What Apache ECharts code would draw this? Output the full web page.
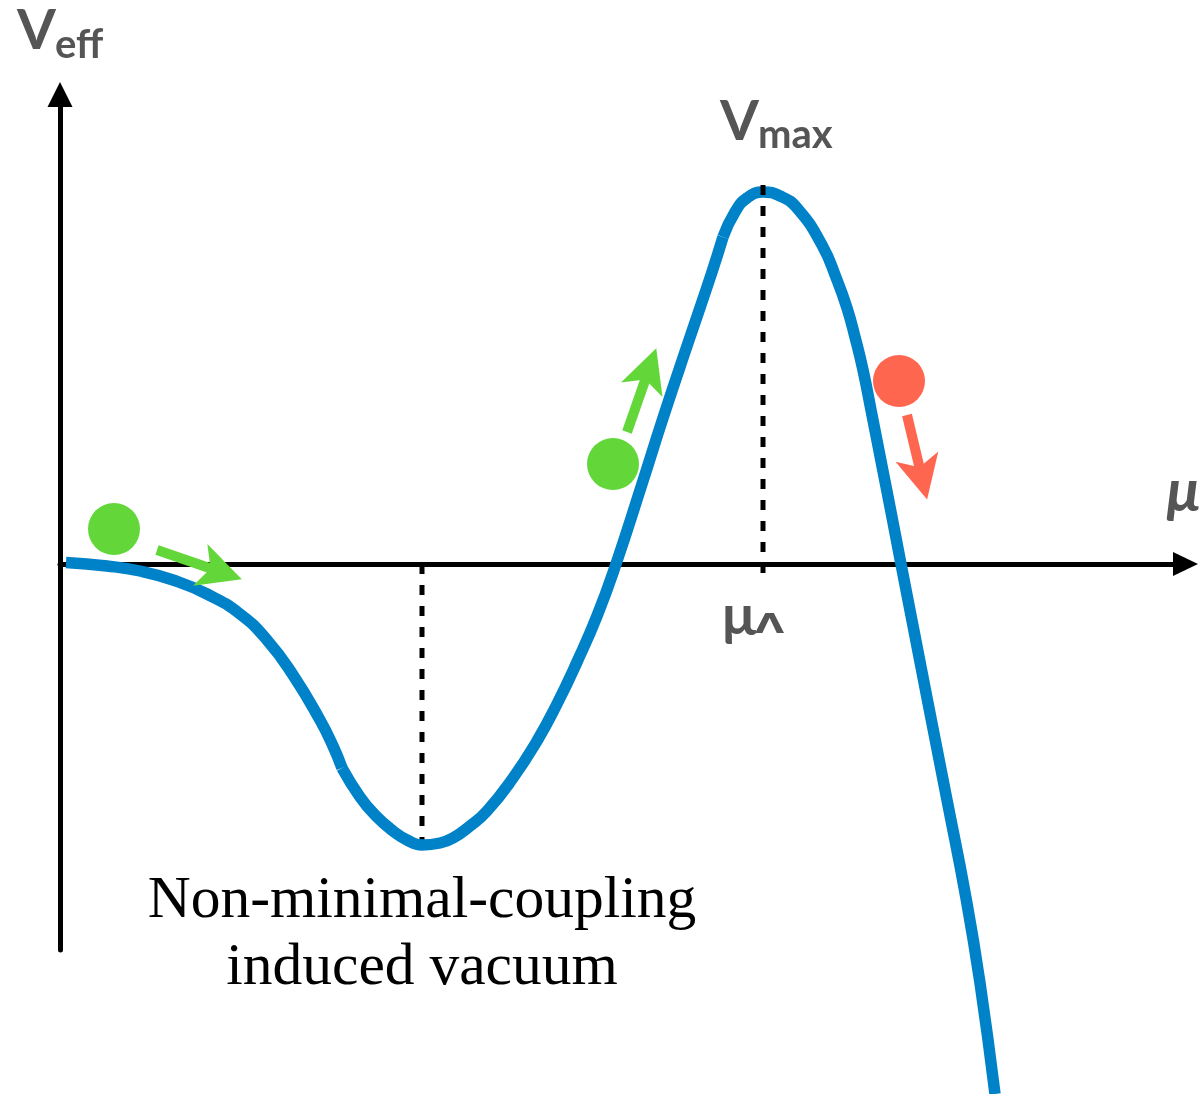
<!DOCTYPE html>
<html>
<head>
<meta charset="utf-8">
<script src="https://cdn.jsdelivr.net/npm/echarts@6/dist/echarts.min.js"></script>
<style>
  html, body { margin: 0; padding: 0; background: #ffffff; }
  #chart { width: 1202px; height: 1094px; }
</style>
</head>
<body>
<div id="chart"></div>
<script>
// Effective potential V_eff(μ), sampled along the curve in plot units.
// Three pieces: the slope into the vacuum, the well and the rise, the barrier top and the fall.
const muSlope = [0.06, 0.47, 0.80, 1.13, 1.47, 1.80, 2.07, 2.33, 2.60, 2.73, 2.82];
const vSlope  = [0.015, -0.02, -0.07, -0.16, -0.30, -0.50, -0.76, -1.11, -1.56, -1.82, -2.04];

const muWell = [2.82, 3.00, 3.15, 3.33, 3.47, 3.62, 3.80, 3.93, 4.10, 4.27, 4.53, 4.77, 4.97, 5.17, 5.37, 5.56, 5.82, 6.03, 6.27, 6.52, 6.63];
const vWell  = [-2.04, -2.33, -2.51, -2.67, -2.76, -2.81, -2.79, -2.74, -2.62, -2.47, -2.14, -1.77, -1.40, -0.98, -0.52, 0.00, 0.80, 1.46, 2.18, 2.92, 3.27];

const muBarrier = [6.63, 6.75, 6.87, 7.03, 7.20, 7.37, 7.62, 7.77, 7.87, 7.95, 8.03, 8.11, 8.21, 8.31, 8.41, 8.55, 8.68, 8.87, 9.06, 9.20, 9.35];
const vBarrier  = [3.27, 3.52, 3.66, 3.72, 3.68, 3.56, 3.19, 2.84, 2.56, 2.27, 1.94, 1.54, 1.03, 0.52, 0.00, -0.72, -1.39, -2.36, -3.34, -4.19, -5.30];

// Characteristic points of the potential
const muVacuum = 3.62;   // non-minimal-coupling induced vacuum
const vVacuum = -2.81;
const muLambda = 7.03;   // top of the barrier, μ_Λ
const vMax = 3.72;

// Axis extents
const muRange = [0, 11.255];
const vRange = [-3.86, 4.695];

// Balls on the potential and the way they move
const ballMu = [0.54, 5.53, 8.39];
const ballV  = [0.35, 1.00, 1.83];
const ballKind = ['rolls', 'climbs', 'escapes'];
const arrowFromMu = [0.97, 5.67, 8.47];
const arrowFromV  = [0.14, 1.32, 1.49];
const arrowToMu   = [1.61, 5.89, 8.62];
const arrowToV    = [-0.08, 1.95, 0.86];

(function () {
  const BLUE = '#0082c8';
  const GREEN = '#63d739';
  const RED = '#ff6650';
  const GREY = '#555555';
  const kindColor = { rolls: GREEN, climbs: GREEN, escapes: RED };

  const zip = (xs, ys) => xs.map((x, i) => [x, ys[i]]);

  const curveSeries = (mu, v) => ({
    type: 'line',
    data: zip(mu, v),
    smooth: 0.5,
    showSymbol: false,
    clip: false,
    silent: true,
    z: 3,
    lineStyle: { color: BLUE, width: 11.5, cap: 'butt', join: 'round' }
  });

  const guideSeries = (points, z) => ({
    type: 'line',
    data: points,
    showSymbol: false,
    clip: false,
    silent: true,
    z: z,
    lineStyle: { color: '#000000', width: 5, type: [10, 11], cap: 'butt' }
  });

  // arrow head with a notched back, pointing up in its own box
  const ARROW_HEAD = 'path://M22 0 L44 44 L22 33 L0 44 Z';

  const chart = echarts.init(document.getElementById('chart'), null, { renderer: 'canvas' });

  chart.setOption({
    animation: false,
    backgroundColor: '#ffffff',
    grid: { left: 60, right: 16.5, top: 94.5, bottom: 144, containLabel: false, outerBoundsMode: 'none' },
    xAxis: {
      type: 'value', min: muRange[0], max: muRange[1],
      axisLine: {
        show: true, onZero: true,
        symbol: ['none', 'triangle'], symbolSize: [24, 25],
        lineStyle: { color: '#000000', width: 5 }
      },
      axisTick: { show: false }, axisLabel: { show: false }, splitLine: { show: false }
    },
    yAxis: {
      type: 'value', min: vRange[0], max: vRange[1],
      axisLine: {
        show: true, onZero: false,
        symbol: ['none', 'triangle'], symbolSize: [25, 25],
        lineStyle: { color: '#000000', width: 5 }
      },
      axisTick: { show: false }, axisLabel: { show: false }, splitLine: { show: false }
    },
    series: [
      guideSeries([[muVacuum, 0], [muVacuum, vVacuum]], 2),
      curveSeries(muSlope, vSlope),
      curveSeries(muWell, vWell),
      curveSeries(muBarrier, vBarrier),
      guideSeries([[muLambda, vMax + 0.07], [muLambda, -0.13]], 4),
      {
        type: 'scatter',
        data: ballMu.map((m, i) => ({
          value: [m, ballV[i]],
          itemStyle: { color: kindColor[ballKind[i]], opacity: 1 }
        })),
        symbol: 'circle',
        symbolSize: 52,
        clip: false,
        silent: true,
        z: 5,
        markLine: {
          silent: true,
          animation: false,
          symbol: ['none', ARROW_HEAD],
          symbolSize: [44, 44],
          label: { show: false },
          emphasis: { disabled: true },
          data: arrowFromMu.map((m, i) => {
            const c = kindColor[ballKind[i]];
            return [
              { coord: [m, arrowFromV[i]], lineStyle: { color: c, width: 10, type: 'solid', cap: 'butt', opacity: 1 }, itemStyle: { color: c, opacity: 1 } },
              { coord: [arrowToMu[i], arrowToV[i]] }
            ];
          })
        }
      }
    ]
  });

  // Text annotations placed relative to the characteristic points
  const px = (mu, v) => chart.convertToPixel({ gridIndex: 0 }, [mu, v]);
  const origin = px(0, 0);
  const peakPx = px(muLambda, vMax);
  const lambdaFoot = px(muLambda, 0);
  const vacuumFoot = px(muVacuum, vVacuum);
  const axisEnd = px(muRange[1], 0);

  const sans = (size, style) => (style || 'normal') + ' bold ' + size + 'px Lato, "Open Sans", sans-serif';
  const serif = '59.5px "Liberation Serif", "DejaVu Serif", serif';
  const txt = (text, x, y, font, fill, align, scaleX) => ({
    type: 'text', x: x, y: y, scaleX: scaleX || 1, silent: true, z: 100,
    style: { text: text, font: font, fill: fill, align: align || 'left', verticalAlign: 'middle' }
  });

  chart.setOption({
    graphic: [
      txt('V', origin[0] - 43, 31, sans(56), GREY),
      txt('eff', origin[0] - 5, 45, sans(40), GREY),
      txt('V', peakPx[0] - 43, peakPx[1] - 70, sans(56), GREY),
      txt('max', peakPx[0] - 5, peakPx[1] - 57, sans(40), GREY),
      txt('μ', lambdaFoot[0] - 41, lambdaFoot[1] + 53, sans(56), GREY),
      txt('Λ', lambdaFoot[0] - 8, lambdaFoot[1] + 62, 'bold 26px "DejaVu Sans", sans-serif', GREY, 'left', 1.45),
      txt('μ', axisEnd[0] - 19, origin[1] - 72, sans(60, 'italic'), GREY),
      txt('Non-minimal-coupling', vacuumFoot[0], 901, serif, '#000000', 'center'),
      txt('induced vacuum', vacuumFoot[0], 968, serif, '#000000', 'center')
    ]
  });
})();
</script>
</body>
</html>
